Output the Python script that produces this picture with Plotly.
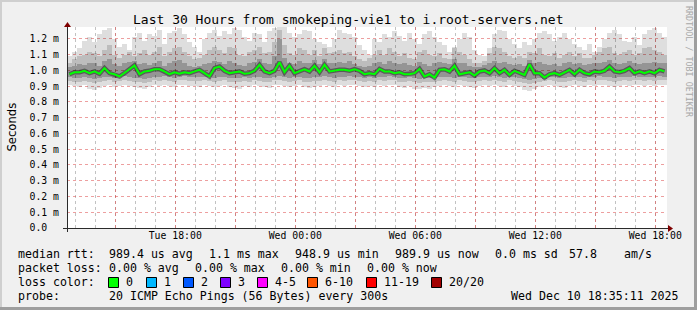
import plotly.graph_objects as go
import pandas as pd

# ---------------- data ----------------
START = "2025-12-09 12:35:11"
END = "2025-12-10 18:35:11"
STEP_MIN = 15  # one column per 15 minutes

# median rtt (microseconds), one value per column
median_us = [
    976, 989, 989, 998, 983, 994, 979, 1015, 983, 976,
    962, 983, 1008, 1032, 976, 994, 998, 1008, 1008, 994,
    976, 989, 979, 989, 983, 994, 1004, 983, 962, 1015,
    1025, 998, 983, 989, 994, 979, 983, 998, 1036, 994,
    983, 998, 1053, 989, 1030, 983, 998, 1008, 994, 1030,
    989, 1036, 994, 1000, 1004, 1004, 998, 1008, 998, 976,
    983, 976, 1010, 994, 994, 983, 989, 976, 976, 983,
    1010, 962, 976, 955, 1004, 1008, 994, 1030, 976, 983,
    989, 968, 994, 1000, 983, 1015, 983, 1004, 972, 998,
    987, 972, 1040, 983, 983, 955, 976, 983, 972, 989,
    1004, 976, 1004, 983, 976, 994, 989, 998, 1025, 994,
    989, 998, 1015, 983, 994, 983, 994, 983, 1004, 994,
]
# lowest ping of each column (bottom of the smoke)
min_us = [
    905, 900, 895, 905, 885, 878, 890, 900, 905, 895, 900, 910, 900, 895, 888, 880, 895, 905, 900, 908, 900, 895, 905, 910, 900, 902, 898, 905, 900, 895,
    900, 905, 895, 890, 885, 900, 895, 905, 900, 893, 890, 905, 910, 900, 895, 900, 905, 895, 890, 898, 902, 908, 900, 895, 905, 900, 910, 905, 900, 895,
    900, 895, 905, 900, 910, 905, 895, 890, 900, 885, 880, 890, 885, 895, 900, 905, 900, 895, 905, 900, 895, 890, 900, 905, 900, 910, 900, 895, 905, 900,
    895, 875, 870, 880, 895, 900, 905, 900, 895, 890, 900, 905, 900, 895, 905, 900, 910, 905, 900, 895, 900, 905, 900, 910, 905, 900, 905, 900, 910, 905,
]
# lower edge of the medium smoke band
lo1_us = [
    935, 930, 928, 935, 925, 920, 930, 935, 938, 930, 932, 940, 935, 930, 925, 922, 930, 938, 935, 940, 935, 930, 938, 942, 935, 936, 932, 938, 935, 930,
    935, 938, 930, 928, 925, 935, 930, 938, 935, 930, 928, 938, 942, 935, 930, 935, 938, 930, 928, 933, 936, 940, 935, 930, 938, 935, 942, 938, 935, 930,
    935, 930, 938, 935, 942, 938, 930, 928, 935, 925, 920, 928, 925, 930, 935, 938, 935, 930, 938, 935, 930, 928, 935, 938, 935, 942, 935, 930, 938, 935,
    930, 918, 915, 922, 930, 935, 938, 935, 930, 928, 935, 938, 935, 930, 938, 935, 942, 938, 935, 930, 935, 938, 935, 942, 938, 935, 938, 935, 942, 938,
]
# lower edge of the dark smoke band
lo2_us = [
    958, 955, 952, 958, 950, 948, 955, 958, 960, 955, 956, 962, 958, 955, 950, 948, 955, 960, 958, 962, 958, 955, 960, 963, 958, 959, 956, 960, 958, 955,
    960, 960, 955, 953, 950, 958, 955, 960, 958, 955, 953, 960, 963, 958, 955, 958, 960, 955, 953, 957, 959, 962, 958, 955, 960, 958, 963, 960, 958, 955,
    958, 955, 960, 958, 963, 960, 955, 953, 958, 950, 946, 952, 950, 955, 958, 960, 958, 955, 960, 958, 955, 953, 958, 960, 958, 963, 958, 955, 960, 958,
    955, 945, 942, 948, 955, 945, 960, 958, 955, 953, 958, 960, 958, 955, 960, 958, 963, 960, 958, 955, 958, 960, 958, 963, 960, 958, 960, 958, 963, 960,
]
# upper edge of the dark smoke band
hi2_us = [
    1020, 1030, 1040, 1035, 1050, 1045, 1030, 1060, 1070, 1040, 1030, 1045, 1055, 1060, 1040, 1050, 1035, 1045, 1060, 1030, 1050, 1060, 1065, 1045, 1030, 1025, 1030, 1040, 1050, 1060,
    1055, 1040, 1060, 1050, 1035, 1030, 1045, 1055, 1070, 1045, 1040, 1090, 1200, 1080, 1050, 1040, 1060, 1050, 1045, 1065, 1040, 1070, 1045, 1050, 1055, 1045, 1060, 1040, 1030, 1025,
    1030, 1045, 1055, 1040, 1060, 1050, 1040, 1045, 1035, 1030, 1055, 1040, 1030, 1045, 1055, 1050, 1040, 1070, 1050, 1045, 1030, 1020, 1025, 1035, 1045, 1060, 1050, 1055, 1040, 1035,
    1040, 1030, 1065, 1045, 1055, 1040, 1035, 1040, 1030, 1045, 1055, 1040, 1050, 1035, 1040, 1045, 1050, 1055, 1065, 1045, 1040, 1050, 1060, 1045, 1040, 1050, 1045, 1055, 1050, 1045,
]
# upper edge of the medium smoke band
hi1_us = [
    1050, 1070, 1090, 1100, 1120, 1110, 1090, 1130, 1160, 1100, 1080, 1100, 1120, 1090, 1110, 1130, 1100, 1120, 1150, 1090, 1120, 1140, 1150, 1120, 1090, 1070, 1080, 1100, 1130, 1150,
    1130, 1110, 1150, 1140, 1100, 1090, 1120, 1130, 1150, 1110, 1120, 1180, 1260, 1160, 1110, 1100, 1140, 1130, 1100, 1130, 1090, 1140, 1110, 1120, 1130, 1110, 1120, 1090, 1070, 1060,
    1080, 1100, 1130, 1100, 1140, 1120, 1090, 1110, 1080, 1070, 1120, 1130, 1100, 1090, 1110, 1080, 1070, 1140, 1120, 1100, 1070, 1050, 1045, 1060, 1110, 1150, 1140, 1120, 1090, 1080,
    1090, 1080, 1120, 1110, 1140, 1100, 1090, 1110, 1080, 1100, 1120, 1090, 1110, 1080, 1080, 1100, 1120, 1140, 1150, 1110, 1100, 1120, 1130, 1100, 1110, 1140, 1150, 1130, 1120, 1100,
]
# highest ping of each column (top of the smoke)
max_us = [
    1090, 1120, 1140, 1190, 1210, 1180, 1230, 1260, 1270, 1200, 1150, 1170, 1130, 1210, 1240, 1190, 1230, 1220, 1260, 1170, 1240, 1250, 1270, 1230, 1180, 1150, 1120, 1200, 1240, 1260, 1220,
    1250, 1230, 1270, 1260, 1210, 1190, 1240, 1230, 1180, 1250, 1270, 1275, 1275, 1240, 1210, 1230, 1260, 1250, 1200, 1180, 1170, 1150, 1200, 1260, 1240, 1230, 1210, 1160, 1130, 1100,
    1200, 1180, 1230, 1210, 1250, 1220, 1190, 1240, 1200, 1170, 1230, 1250, 1210, 1180, 1160, 1120, 1150, 1200, 1240, 1210, 1130, 1100, 1090, 1140, 1230, 1260, 1250, 1200, 1170, 1140, 1180,
    1160, 1200, 1240, 1250, 1230, 1190, 1210, 1240, 1200, 1170, 1150, 1130, 1170, 1120, 1150, 1200, 1240, 1260, 1230, 1190, 1180, 1210, 1160, 1230, 1260, 1270, 1240, 1210,
]
for arr in (median_us, min_us, lo1_us, lo2_us, hi2_us, hi1_us, max_us):
    assert len(arr) == 120, len(arr)

y_tickvals = [0.0, 0.1, 0.2, 0.3, 0.4, 0.5, 0.6, 0.7, 0.8, 0.9, 1.0, 1.1, 1.2]
y_ticktext = ["0.0\u00a0\u00a0", "0.1 m", "0.2 m", "0.3 m", "0.4 m", "0.5 m", "0.6 m",
              "0.7 m", "0.8 m", "0.9 m", "1.0 m", "1.1 m", "1.2 m"]
x_tickvals = ["2025-12-09 15:00", "2025-12-09 18:00", "2025-12-09 21:00", "2025-12-10 00:00",
              "2025-12-10 03:00", "2025-12-10 06:00", "2025-12-10 09:00", "2025-12-10 12:00",
              "2025-12-10 15:00", "2025-12-10 18:00"]
x_ticktext = ["", "Tue 18:00", "", "Wed 00:00", "", "Wed 06:00", "", "Wed 12:00", "", "Wed 18:00"]

title_text = "Last 30 Hours from smokeping-vie1 to i.root-servers.net"
rtt_items = ["989.4 us avg", "1.1 ms max", "948.9 us min", "989.9 us now", "0.0 ms sd", "57.8", "am/s"]
loss_items = ["0.00 % avg", "0.00 % max", "0.00 % min", "0.00 % now"]
loss_colors = [("0", "#00ff00"), ("1", "#00b8ff"), ("2", "#0059ff"), ("3", "#7e00ff"),
               ("4-5", "#ff00ff"), ("6-10", "#ff5500"), ("11-19", "#ff0000"), ("20/20", "#a10000")]
probe_text = "20 ICMP Echo Pings (56 Bytes) every 300s"
stamp_text = "Wed Dec 10 18:35:11 2025"

# ---------------- build ----------------
W, H = 697, 310
L, R, T, B = 67, 667, 27, 228
PW, PH = R - L, B - T


def px(x):
    return (x - L) / PW


def py(y):
    return (B - y) / PH


starts = pd.date_range(START, periods=len(median_us), freq=f"{STEP_MIN}min")
centers = starts + pd.Timedelta(minutes=STEP_MIN / 2)
col_ms = STEP_MIN * 60 * 1000

to_ms = lambda a: [v / 1000.0 for v in a]
mn, l1, l2, h2, h1, mx, med = map(to_ms, (min_us, lo1_us, lo2_us, hi2_us, hi1_us, max_us, median_us))

fig = go.Figure()
bands = [(mn, mx, "rgba(0,0,0,0.13)"), (l1, h1, "rgba(0,0,0,0.15)"), (l2, h2, "rgba(0,0,0,0.21)")]
for lo, hi, col in bands:
    fig.add_trace(go.Bar(x=starts, base=lo, y=[b - a for a, b in zip(lo, hi)],
                         width=col_ms, offset=0, marker=dict(color=col, line=dict(width=0)),
                         hoverinfo="skip"))
fig.add_trace(go.Scatter(x=centers, y=med, mode="lines",
                         line=dict(color="rgba(40,40,40,0.55)", width=4.5, shape="linear"),
                         hoverinfo="skip"))
fig.add_trace(go.Scatter(x=centers, y=med, mode="lines",
                         line=dict(color="#00ff00", width=2, shape="linear")))

MONO = "DejaVu Sans Mono"
GRID = "rgba(143,143,143,0.55)"
MGRID = "rgba(222,80,80,0.55)"

fig.update_layout(
    width=W, height=H, margin=dict(l=L, r=W - R, t=T, b=H - B),
    paper_bgcolor="#f0f0f0", plot_bgcolor="#ffffff", showlegend=False,
    barmode="overlay", bargap=0,
    font=dict(family=MONO, color="#000000"),
    xaxis=dict(type="date", range=[START, END], tickmode="array", tickvals=x_tickvals,
               ticktext=x_ticktext, tickfont=dict(family=MONO, size=9.8), ticks="",
               showgrid=True, gridcolor=MGRID, griddash="dot", gridwidth=1,
               zeroline=False, showline=False,
               minor=dict(tick0="2025-12-09 13:00", dtick=3600000, showgrid=True,
                          gridcolor=GRID, griddash="dot", gridwidth=1)),
    yaxis=dict(range=[0, 1.276], tickmode="array", tickvals=y_tickvals, ticktext=y_ticktext,
               tickfont=dict(family=MONO, size=9.8), ticks="", ticklabelstandoff=7,
               showgrid=True, gridcolor=MGRID, griddash="dot", gridwidth=1,
               zeroline=False, showline=False),
)

shapes = []
AX = "#2a2a2a"
# axis lines
shapes.append(dict(type="line", xref="paper", yref="paper", x0=px(67.5), x1=px(67.5),
                   y0=py(232), y1=py(26), line=dict(color=AX, width=1)))
shapes.append(dict(type="line", xref="paper", yref="paper", x0=px(63), x1=px(669),
                   y0=py(228.5), y1=py(228.5), line=dict(color=AX, width=1)))
# arrows
shapes.append(dict(type="path", xref="paper", yref="paper", xsizemode="pixel", ysizemode="pixel",
                   xanchor=px(67.5), yanchor=py(27), path="M -3.5,0 L 3.5,0 L 0,5 Z",
                   fillcolor="#7f0000", line=dict(width=0)))
shapes.append(dict(type="path", xref="paper", yref="paper", xsizemode="pixel", ysizemode="pixel",
                   xanchor=px(668), yanchor=py(228.5), path="M 0,-3.5 L 0,3.5 L 5,0 Z",
                   fillcolor="#7f0000", line=dict(width=0)))
# frame shades
shapes.append(dict(type="rect", xref="paper", yref="paper", x0=px(0), x1=px(W), y0=py(0), y1=py(2),
                   fillcolor="#cfcfcf", line=dict(width=0)))
shapes.append(dict(type="rect", xref="paper", yref="paper", x0=px(0), x1=px(2), y0=py(0), y1=py(H),
                   fillcolor="#cfcfcf", line=dict(width=0)))
shapes.append(dict(type="rect", xref="paper", yref="paper", x0=px(0), x1=px(W), y0=py(H - 3), y1=py(H),
                   fillcolor="#9e9e9e", line=dict(width=0)))
shapes.append(dict(type="rect", xref="paper", yref="paper", x0=px(W - 3), x1=px(W), y0=py(0), y1=py(H),
                   fillcolor="#9e9e9e", line=dict(width=0)))

annotations = []


def text(s, x, y, size=11.6, anchor="left", family=MONO, color="#000000", angle=0):
    annotations.append(dict(text=s, x=px(x), y=py(y), xref="paper", yref="paper",
                            xanchor=anchor, yanchor="middle", showarrow=False, textangle=angle,
                            font=dict(family=family, size=size, color=color)))


text(title_text, 348, 19.5, size=13, anchor="center")
text("Seconds", 11, 127.5, size=11.6, anchor="center", family="DejaVu Sans", angle=-90)
text("RRDTOOL / TOBI OETIKER", 689, 62, size=8.4, anchor="center", color="#a8a8a8", angle=90)

# legend rows
ROW = [254, 268, 282, 296]
text("median rtt:", 16, ROW[0])
for s, x in zip(rtt_items, [107, 207, 293, 393, 493, 567, 622]):
    text(s, x, ROW[0])
text("packet loss:", 16, ROW[1])
for s, x in zip(loss_items, [107, 193, 279, 365]):
    text(s, x, ROW[1])
text("loss color:", 16, ROW[2])
for (lab, col), bx in zip(loss_colors, [108, 146, 183, 220, 257, 307, 366, 431]):
    shapes.append(dict(type="rect", xref="paper", yref="paper", x0=px(bx + 0.5), x1=px(bx + 10.5),
                       y0=py(ROW[2] - 4.5), y1=py(ROW[2] + 5.5), fillcolor=col,
                       line=dict(color="#000000", width=1)))
    text(lab, bx + 16, ROW[2])
text("probe:", 16, ROW[3])
text(probe_text, 107, ROW[3])
text(stamp_text, 681, ROW[3], anchor="right")

fig.update_layout(shapes=shapes, annotations=annotations)
fig.write_html("out.html")
